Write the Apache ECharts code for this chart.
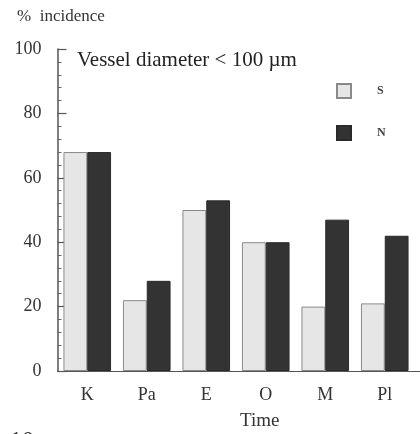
<!DOCTYPE html>
<html>
<head>
<meta charset="utf-8">
<script src="https://cdn.jsdelivr.net/npm/echarts@6/dist/echarts.min.js"></script>
<style>
  html, body { margin: 0; padding: 0; background: #fff; }
  #chart { width: 420px; height: 434px; }
</style>
</head>
<body>
<div id="chart"></div>
<script>
// Incidence (%) per time point, small vessels
const categories = ['K', 'Pa', 'E', 'O', 'M', 'Pl', ''];
const seriesS = [68, 22, 50, 40, 20, 21, 47];
const seriesN = [68, 28, 53, 40, 47, 42, null];
const yTicks = [0, 20, 40, 60, 80, 100];

const serif = '"Liberation Serif", "DejaVu Serif", serif';
const chart = echarts.init(document.getElementById('chart'), null, { renderer: 'canvas' });

chart.setOption({
  backgroundColor: '#ffffff',
  animation: false,
  grid: { left: 57.5, right: -54, top: 49, bottom: 63, outerBoundsMode: 'none' },
  legend: {
    orient: 'vertical',
    left: 336,
    top: 83,
    padding: 0,
    itemWidth: 14,
    itemHeight: 14,
    itemGap: 26,
    icon: 'rect',
    textStyle: { fontFamily: serif, fontSize: 12, fontWeight: 'bold', color: '#444', padding: [0, 0, 0, 21] },
    data: ['S', 'N']
  },
  xAxis: {
    type: 'category',
    data: categories,
    axisLine: { show: true, lineStyle: { color: '#555', width: 1.2 } },
    axisTick: { show: false },
    axisLabel: { fontFamily: serif, fontSize: 18, color: '#333', margin: 15 }
  },
  yAxis: {
    type: 'value',
    min: yTicks[0],
    max: yTicks[yTicks.length - 1],
    interval: 20,
    axisLine: { show: true, lineStyle: { color: '#555', width: 1.5 } },
    axisTick: { show: true, inside: true, length: 9, lineStyle: { color: '#555', width: 1.2 } },
    minorTick: { show: true, splitNumber: 5, length: 4, lineStyle: { color: '#666', width: 1 } },
    splitLine: { show: false },
    axisLabel: { fontFamily: serif, fontSize: 18, color: '#333', margin: 16 }
  },
  graphic: [
    { type: 'text', left: 17, top: 8, style: { text: '%  incidence', font: '17px ' + serif, fill: '#333' } },
    { type: 'text', left: 77, top: 50, style: { text: 'Vessel diameter < 100 µm', font: '21px ' + serif, fill: '#222' } },
    { type: 'text', left: 240, top: 412, style: { text: 'Time', font: '19px ' + serif, fill: '#333' } },
    { type: 'text', left: 10, top: 429, style: { text: '10', font: '24px ' + serif, fill: '#333' } }
  ],
  series: [
    {
      name: 'S',
      type: 'bar',
      data: seriesS,
      barGap: '0%',
      barCategoryGap: '20%',
      itemStyle: { color: '#e6e6e6', borderColor: '#8a8a8a', borderWidth: 1 }
    },
    {
      name: 'N',
      type: 'bar',
      data: seriesN,
      barGap: '0%',
      barCategoryGap: '20%',
      itemStyle: { color: '#333333', borderColor: '#2a2a2a', borderWidth: 1 }
    }
  ]
});
</script>
</body>
</html>
